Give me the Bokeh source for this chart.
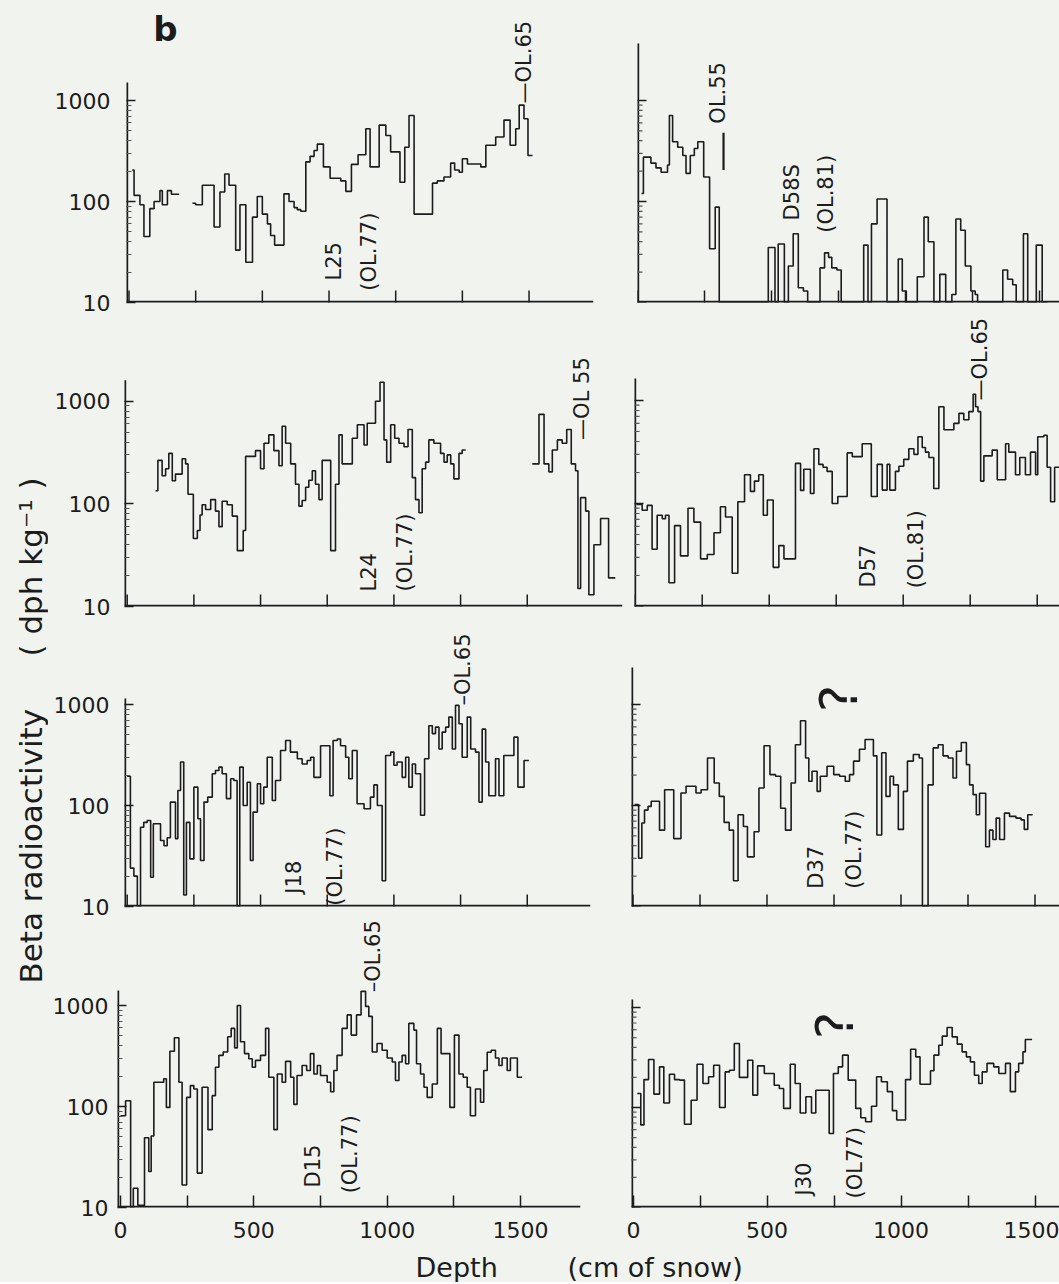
import math
import numpy as np
from bokeh.plotting import figure
from bokeh.models import FixedTicker, Label, Range1d
from bokeh.layouts import row, column
from bokeh.embed import file_html
from bokeh.resources import INLINE

# ---------------- data (depth in cm of snow, beta activity in dph/kg) ----------------
# each series: bin start depths, bin values (None = gap), final bin end depth
l25_depth = [12, 19, 41, 56, 78, 94, 116, 125, 144, 159,
             188, 238, 250, 275, 319, 341, 359, 375, 400, 416,
             438, 463, 481, 500, 519, 531, 546, 581, 600, 619,
             631, 644, 663, 679, 694, 706, 729, 754, 794, 813,
             834, 859, 888, 904, 938, 963, 981, 1016, 1034, 1050,
             1069, 1138, 1156, 1181, 1206, 1221, 1238, 1250, 1269, 1319,
             1338, 1375, 1406, 1429, 1450, 1463, 1481, 1496]
l25_beta = [205, 115, 93, 45, 85, 100, 128, 93, 128, 118,
            None, 96, 93, 145, 56, 124, 187, 145, 33, 93,
            25, 70, 112, 75, 60, 46, 37, 119, 100, 87,
            83, 80, 247, 280, 320, 370, 220, 170, 160, 126,
            233, 290, 525, 220, 570, 450, 310, 155, 345, 710,
            75, 152, 160, 175, 240, 205, 195, 265, 235, 220,
            360, 435, 640, 360, 525, 900, 660, 285]
l25_end = 1513

d58s_depth = [15, 22, 50, 69, 88, 112, 119, 131, 150, 169,
              181, 197, 212, 225, 247, 269, 290, 305, 488, 513,
              525, 548, 563, 581, 600, 619, 635, 681, 698, 713,
              725, 744, 760, 844, 860, 873, 894, 931, 973, 988,
              1003, 1044, 1069, 1085, 1106, 1128, 1150, 1173, 1188, 1206,
              1223, 1244, 1260, 1269, 1363, 1381, 1400, 1413, 1440, 1456,
              1488, 1510]
d58s_beta = [120, 275, 240, 215, 195, 230, 710, 390, 345, 285,
             190, 285, 335, 390, 175, 34, 88, 10, 35, 10,
             38, 10, 23, 48, 14, 13, 10, 22, 31, 28,
             22, 21, 10, 37, 10, 60, 106, 10, 27, 13,
             10, 18, 70, 40, 10, 19, 10, 12, 67, 52,
             23, 13, 12, 10, 21, 17, 15, 10, 48, 10,
             37, 10]
d58s_end = 1530

l24_depth = [106, 115, 131, 144, 156, 169, 181, 206, 219, 228,
             248, 263, 273, 281, 294, 313, 331, 344, 356, 375,
             394, 413, 435, 444, 481, 500, 513, 531, 550, 569,
             581, 594, 613, 631, 644, 656, 669, 681, 694, 706,
             719, 731, 763, 781, 794, 806, 844, 863, 888, 900,
             931, 948, 963, 973, 988, 1003, 1019, 1038, 1053, 1069,
             1081, 1094, 1106, 1119, 1131, 1150, 1175, 1188, 1200, 1213,
             1225, 1244, 1256, 1269, 1519, 1544, 1563, 1581, 1594, 1613,
             1631, 1648, 1665, 1681, 1690, 1700, 1719, 1731, 1750, 1775,
             1805]
l24_beta = [134, 265, 188, 220, 310, 168, 195, 275, 245, 124,
            46, 55, 78, 98, 88, 110, 85, 60, 106, 98,
            76, 35, 55, 290, 330, 220, 390, 470, 330, 235,
            570, 390, 245, 155, 95, 108, 145, 170, 210, 155,
            110, 265, 35, 155, 470, 245, 435, 590, 375, 610,
            1000, 1530, 420, 255, 590, 435, 390, 360, 530, 180,
            110, 82, 220, 255, 420, 390, 310, 255, 300, 245,
            175, 310, 335, None, 245, 745, 245, 205, 335, 420,
            390, 530, 245, 210, 15, 115, 85, 13, 40, 72,
            19]
l24_end = 1830

d57_depth = [5, 26, 45, 63, 82, 101, 113, 126, 147, 169,
             197, 219, 244, 269, 294, 318, 337, 362, 383, 408,
             430, 445, 461, 478, 493, 515, 536, 555, 598, 617,
             629, 654, 667, 685, 701, 716, 735, 756, 791, 810,
             847, 881, 903, 922, 940, 950, 971, 984, 1002, 1021,
             1040, 1055, 1071, 1083, 1096, 1114, 1133, 1152, 1189, 1208,
             1226, 1245, 1261, 1270, 1279, 1289, 1301, 1332, 1351, 1382,
             1394, 1419, 1435, 1456, 1475, 1494, 1502, 1525, 1537, 1550,
             1565]
d57_beta = [98, 86, 96, 36, 77, 71, 77, 17, 61, 31,
            90, 66, 29, 32, 52, 93, 74, 21, 104, 190,
            131, 165, 190, 77, 108, 24, 39, 29, 245, 134,
            215, 125, 340, 240, 225, 205, 100, 117, 310, 285,
            380, 117, 240, 135, 240, 135, 205, 230, 268, 340,
            300, 445, 350, 315, 280, 140, 870, 520, 600, 750,
            650, 780, 1150, 870, 780, 165, 290, 330, 170, 380,
            315, 190, 280, 190, 315, 190, 445, 460, 225, 104,
            225]
d57_end = 1583

j18_depth = [0, 12, 25, 38, 50, 62, 75, 88, 98, 125,
             138, 150, 162, 181, 190, 200, 212, 222, 235, 250,
             265, 275, 288, 302, 319, 331, 344, 356, 372, 388,
             400, 412, 422, 435, 450, 462, 472, 488, 500, 512,
             525, 544, 556, 575, 594, 612, 638, 656, 675, 688,
             700, 725, 760, 772, 788, 800, 819, 831, 844, 862,
             888, 912, 925, 938, 956, 969, 988, 1000, 1012, 1031,
             1044, 1056, 1069, 1081, 1100, 1115, 1131, 1144, 1156, 1169,
             1181, 1194, 1206, 1219, 1231, 1244, 1256, 1275, 1288, 1306,
             1319, 1331, 1344, 1356, 1381, 1394, 1412, 1450, 1465, 1488]
j18_beta = [195, 24, 20, 10, 61, 68, 71, 19.5, 66, 45,
            40, 48, 108, 47, 141, 270, 13, 68, 29.6, 152,
            74, 28.5, 108, 121, 206, 222, 240, 206, 117, 184,
            177, 10, 240, 100, 170, 28.5, 86, 164, 104, 152,
            300, 112, 177, 350, 440, 338, 290, 258, 279, 300,
            190, 390, 125, 440, 455, 390, 300, 184, 350, 104,
            93, 121, 160, 100, 18, 313, 338, 250, 270, 190,
            300, 152, 258, 206, 80, 290, 617, 515, 597, 363,
            533, 597, 750, 363, 980, 645, 300, 750, 363, 338,
            108, 570, 270, 125, 290, 125, 313, 475, 152, 279]
j18_end = 1506

d37_depth = [6, 21, 33, 43, 56, 68, 99, 118, 152, 179,
             198, 235, 254, 278, 303, 322, 340, 359, 375, 392,
             412, 427, 452, 470, 489, 511, 532, 551, 569, 590,
             606, 625, 644, 656, 668, 687, 699, 724, 749, 771,
             792, 808, 823, 845, 866, 897, 910, 928, 944, 959,
             972, 990, 1009, 1024, 1046, 1068, 1080, 1101, 1120, 1139,
             1157, 1176, 1194, 1207, 1225, 1244, 1256, 1269, 1281, 1293,
             1316, 1330, 1343, 1355, 1368, 1386, 1405, 1429, 1448, 1460,
             1473]
d37_beta = [102, 30, 67, 90, 98, 110, 57, 143, 47, 133,
            155, 133, 143, 295, 167, 123, 68, 57, 18, 81,
            62, 31, 55, 149, 390, 202, 195, 94, 57, 167,
            400, 690, 295, 174, 218, 138, 195, 245, 202, 195,
            174, 202, 275, 360, 450, 310, 51, 333, 123, 195,
            160, 58, 138, 275, 320, 295, 10, 160, 372, 400,
            310, 295, 187, 345, 420, 254, 160, 128, 81, 132,
            39, 57, 46, 75, 46, 84, 78, 75, 72, 58,
            81]
d37_end = 1491

d15_depth = [0, 19, 38, 48, 65, 90, 106, 115, 125, 162,
             172, 185, 202, 219, 231, 248, 262, 275, 288, 306,
             328, 344, 356, 369, 385, 402, 415, 428, 438, 450,
             465, 481, 494, 506, 525, 544, 556, 575, 588, 606,
             619, 638, 650, 662, 681, 698, 712, 725, 738, 750,
             775, 788, 800, 812, 831, 850, 865, 885, 902, 919,
             931, 944, 962, 981, 1000, 1019, 1031, 1044, 1056, 1069,
             1081, 1100, 1110, 1125, 1138, 1150, 1169, 1188, 1202, 1219,
             1235, 1252, 1269, 1285, 1300, 1312, 1331, 1350, 1362, 1375,
             1390, 1406, 1419, 1431, 1450, 1462, 1488]
d15_beta = [81, 114, 10, 15.5, 10.5, 49, 22.7, 51, 174, 188,
            98, 352, 479, 174, 16.7, 123, 161, 149, 21.9, 155,
            59, 128, 245, 321, 347, 490, 593, 381, 1000, 437,
            334, 297, 245, 286, 321, 593, 195, 59, 210, 174,
            280, 195, 105, 203, 255, 227, 334, 210, 255, 203,
            174, 140, 227, 321, 593, 807, 509, 807, 1380, 980,
            780, 347, 420, 360, 302, 276, 181, 276, 321, 265,
            665, 571, 265, 210, 155, 123, 167, 593, 334, 334,
            98, 509, 210, 195, 155, 81, 149, 110, 227, 345,
            360, 302, 255, 302, 227, 302, 195]
d15_end = 1506

j30_depth = [16, 29, 41, 58, 78, 99, 115, 136, 155, 174,
             192, 217, 239, 261, 282, 301, 323, 344, 360, 378,
             397, 428, 447, 465, 490, 527, 546, 562, 587, 605,
             624, 645, 666, 682, 732, 748, 766, 782, 803, 831,
             850, 868, 890, 909, 927, 949, 968, 984, 1017, 1036,
             1055, 1071, 1110, 1123, 1141, 1154, 1172, 1191, 1210, 1228,
             1244, 1259, 1274, 1290, 1303, 1321, 1346, 1365, 1390, 1408,
             1427, 1439, 1455, 1464]
j30_beta = [138, 67, 190, 302, 136, 255, 111, 215, 190, 188,
            68, 118, 271, 174, 203, 265, 100, 227, 236, 437,
            200, 297, 133, 261, 219, 167, 155, 98, 271, 174,
            88, 128, 88, 149, 55, 219, 255, 334, 188, 98,
            79, 72, 103, 203, 181, 144, 93, 75, 190, 383,
            321, 171, 233, 334, 420, 517, 631, 509, 430, 360,
            321, 286, 210, 174, 227, 276, 255, 219, 276, 144,
            227, 276, 360, 479]
j30_end = 1489

# axis ticks
depth_ticks = [0, 250, 500, 750, 1000, 1250, 1500]
depth_tick_text = ["0", " ", "500", " ", "1000", " ", "1500"]
beta_ticks = [10, 100, 1000]
beta_tick_text = ["10", "100", "1000"]
beta_minor = [m * d for d in (10, 100) for m in range(2, 10)]

# annotations: (text, depth, beta, kind)
ann_l25 = [("L25", 767, 16.5, "v"), ("(OL.77)", 900, 13.1, "v"),
           ("\u2014OL.65", 1480, 935, "v"), ("b", 137, 5130, "b")]
ann_d58s = [("OL.55", 302, 590, "v"), ("D58S", 575, 65, "v"), ("(OL.81)", 705, 49, "v")]
mark_d58s = [321, 205, 480]
ann_l24 = [("L24", 905, 14, "v"), ("(OL.77)", 1040, 14, "v"), ("\u2014OL 55", 1707, 420, "v")]
ann_d57 = [("D57", 867, 15.3, "v"), ("(OL.81)", 1046, 15, "v"), ("\u2014OL.65", 1285, 1000, "v")]
ann_j18 = [("J18", 624, 13.4, "v"), ("(OL.77)", 781, 10.2, "v"), ("\u2013OL.65", 1258, 975, "v")]
ann_d37 = [("?", 770, 1150, "q"), ("D37", 681, 15, "v"), ("(OL.77)", 823, 15, "v")]
ann_d15 = [("D15", 720, 15.8, "v"), ("(OL.77)", 862, 13.8, "v"), ("\u2013OL.65", 945, 1350, "v")]
ann_j30 = [("?", 752, 660, "q"), ("J30", 637, 13.2, "v"), ("(OL77)", 827, 12.3, "v")]

# ---------------- styling / layout ----------------
BG = "#f1f3ef"
INK = "#1c1c1c"
FONT = "DejaVu Sans"
PPC = {"L": 0.2667, "R": 0.268}          # px per cm
COLS = {"L": (48, 626), "R": (626, 1059)}  # page x extents of columns
ROW_TOP = [0, 318, 622, 919]
ROW_BOT = [318, 622, 919, 1250]
BG_STYLE = {"background-color": BG}

LAY = {
    (0, "L"): dict(al=126, x0=128.5, ar=593, top=82, bot=302, dec=101, so=16),
    (0, "R"): dict(al=637, x0=637, ar=1059, top=43, bot=302, dec=101, so=0),
    (1, "L"): dict(al=124, x0=126.7, ar=622, top=380, bot=607, dec=103, so=14),
    (1, "R"): dict(al=634, x0=634.7, ar=1059, top=378, bot=606, dec=103, so=0),
    (2, "L"): dict(al=124, x0=126.7, ar=590, top=698, bot=906, dec=101, so=15),
    (2, "R"): dict(al=631, x0=632.5, ar=1059, top=667, bot=906, dec=101, so=0),
    (3, "L"): dict(al=117, x0=120, ar=580, top=990, bot=1207, dec=101, so=9),
    (3, "R"): dict(al=631, x0=632.5, ar=1059, top=999, bot=1207, dec=100, so=0),
}


def step_xy(starts, vals, end):
    edges = list(starts) + [end]
    xs, ys = [], []
    for i, v in enumerate(vals):
        if v is None:
            xs.append(np.nan)
            ys.append(np.nan)
            continue
        xs += [edges[i], edges[i + 1]]
        ys += [v, v]
    return xs, ys


def make_panel(r, c, starts, vals, end, anns, mark=None):
    lay = LAY[(r, c)]
    cl, cr = COLS[c]
    rt, rb = ROW_TOP[r], ROW_BOT[r]
    ppc = PPC[c]
    x_start = (lay["al"] - lay["x0"]) / ppc
    x_end = (lay["ar"] - lay["x0"]) / ppc
    y_fig_top = 10 ** (1 + (lay["bot"] - rt) / lay["dec"])
    y_axis_top = 10 ** (1 + (lay["bot"] - lay["top"]) / lay["dec"])
    p = figure(width=cr - cl, height=rb - rt,
               x_range=Range1d(x_start, x_end), y_range=Range1d(10, y_fig_top),
               y_axis_type="log", output_backend="svg", toolbar_location=None,
               title=None,
               x_axis_location="below" if r == 3 else None,
               y_axis_location="left" if c == "L" else None,
               min_border_left=int(round(lay["al"] - cl)),
               min_border_right=int(round(cr - lay["ar"])),
               min_border_top=0,
               min_border_bottom=int(rb - lay["bot"]),
               background_fill_color=BG, border_fill_color=BG,
               outline_line_color=None, styles=BG_STYLE)
    p.grid.visible = False

    # data trace
    xs, ys = step_xy(starts, vals, end)
    p.line(xs, ys, line_color=INK, line_width=1.6)

    if mark is not None:
        p.segment(x0=[mark[0]], y0=[mark[1]], x1=[mark[0]], y1=[mark[2]],
                  line_color=INK, line_width=2.2)

    # axis lines (half of the width is clipped at the frame edge)
    p.segment(x0=[x_start, x_start], y0=[10, 10], x1=[x_end, x_start],
              y1=[10, y_axis_top], line_color=INK, line_width=3.4)

    # depth axis ticks / labels
    if r == 3:
        xa = p.xaxis[0]
        xa.ticker = FixedTicker(ticks=depth_ticks)
        xa.major_tick_in = 12
        xa.major_tick_out = 0
        xa.minor_tick_in = 0
        xa.minor_tick_out = 0
        xa.axis_line_color = None
        xa.major_tick_line_color = INK
        xa.major_tick_line_width = 1.5
        xa.major_label_overrides = dict(zip(depth_ticks, depth_tick_text))
        xa.major_label_text_font_size = "22px"
        xa.major_label_text_font = FONT
        xa.major_label_text_color = INK
        xa.major_label_standoff = 10
    else:
        p.scatter(x=depth_ticks, y=[10] * len(depth_ticks), marker="dash",
                  angle=math.pi / 2, size=24, line_color=INK, line_width=1.5)

    # beta axis ticks / labels
    if c == "L":
        ya = p.yaxis[0]
        ya.ticker = FixedTicker(ticks=beta_ticks, minor_ticks=beta_minor)
        ya.major_tick_in = 9
        ya.major_tick_out = 0
        ya.minor_tick_in = 5
        ya.minor_tick_out = 0
        ya.axis_line_color = None
        ya.major_tick_line_color = INK
        ya.major_tick_line_width = 1.4
        ya.minor_tick_line_color = "#555555"
        ya.minor_tick_line_width = 1.2
        ya.major_label_overrides = dict(zip(beta_ticks, beta_tick_text))
        ya.major_label_text_font_size = "22px"
        ya.major_label_text_font = FONT
        ya.major_label_text_color = INK
        ya.major_label_standoff = lay["so"]
    else:
        p.scatter(x=[x_start] * len(beta_ticks), y=beta_ticks, marker="dash",
                  size=18, line_color=INK, line_width=1.4)
        p.scatter(x=[x_start] * len(beta_minor), y=beta_minor, marker="dash",
                  size=10, line_color="#555555", line_width=1.2)

    for txt, x, y, kind in anns:
        if kind == "v":
            lab = Label(x=x, y=y, text=txt, angle=math.pi / 2, text_align="left",
                        text_baseline="middle", text_font_size="21px",
                        text_font=FONT, text_color=INK)
        elif kind == "q":
            lab = Label(x=x, y=y, text=txt, angle=math.pi / 2, text_align="center",
                        text_baseline="middle", text_font_size="52px",
                        text_font=FONT, text_color=INK)
        else:
            lab = Label(x=x, y=y, text=txt, text_align="center",
                        text_baseline="middle", text_font_size="34px",
                        text_font=FONT, text_font_style="bold", text_color=INK)
        p.add_layout(lab)
    return p


p1l = make_panel(0, "L", l25_depth, l25_beta, l25_end, ann_l25)
p1r = make_panel(0, "R", d58s_depth, d58s_beta, d58s_end, ann_d58s, mark_d58s)
p2l = make_panel(1, "L", l24_depth, l24_beta, l24_end, ann_l24)
p2r = make_panel(1, "R", d57_depth, d57_beta, d57_end, ann_d57)
p3l = make_panel(2, "L", j18_depth, j18_beta, j18_end, ann_j18)
p3r = make_panel(2, "R", d37_depth, d37_beta, d37_end, ann_d37)
p4l = make_panel(3, "L", d15_depth, d15_beta, d15_end, ann_d15)
p4r = make_panel(3, "R", j30_depth, j30_beta, j30_end, ann_j30)

# y-axis title strip
YL_W, YL_H = 48, 1250
yl = figure(width=YL_W, height=YL_H, x_range=Range1d(0, YL_W), y_range=Range1d(0, YL_H),
            x_axis_location=None, y_axis_location=None, min_border=0,
            output_backend="svg", toolbar_location=None, title=None,
            background_fill_color=BG, border_fill_color=BG, outline_line_color=None,
            styles=BG_STYLE)
yl.grid.visible = False
yl.add_layout(Label(x=30, y=267, text="Beta radioactivity", angle=math.pi / 2,
                    text_align="left", text_baseline="middle", text_font_size="31px",
                    text_font=FONT, text_color=INK))
yl.add_layout(Label(x=30, y=783, text="( dph  kg\u207b\u00b9 )", angle=math.pi / 2,
                    text_align="right", text_baseline="middle", text_font_size="31px",
                    text_font=FONT, text_color=INK))

# x-axis title strip
DX_W, DX_H = 1059, 32
dx = figure(width=DX_W, height=DX_H, x_range=Range1d(0, DX_W), y_range=Range1d(0, DX_H),
            x_axis_location=None, y_axis_location=None, min_border=0,
            output_backend="svg", toolbar_location=None, title=None,
            background_fill_color=BG, border_fill_color=BG, outline_line_color=None,
            styles=BG_STYLE)
dx.grid.visible = False
dx.add_layout(Label(x=415, y=15, text="Depth", text_align="left", text_baseline="middle",
                    text_font_size="27px", text_font=FONT, text_color=INK))
dx.add_layout(Label(x=567, y=15, text="(cm of snow)", text_align="left",
                    text_baseline="middle", text_font_size="27px", text_font=FONT,
                    text_color=INK))

rows = [row(p1l, p1r, styles=BG_STYLE), row(p2l, p2r, styles=BG_STYLE),
        row(p3l, p3r, styles=BG_STYLE), row(p4l, p4r, styles=BG_STYLE)]
grid = column(*rows, styles=BG_STYLE)
root = column(row(yl, grid, styles=BG_STYLE), dx, styles=BG_STYLE)

html = file_html(root, INLINE)
html = html.replace("<body>", '<body style="background-color:%s;">' % BG, 1)
open("out.html", "w").write(html)
